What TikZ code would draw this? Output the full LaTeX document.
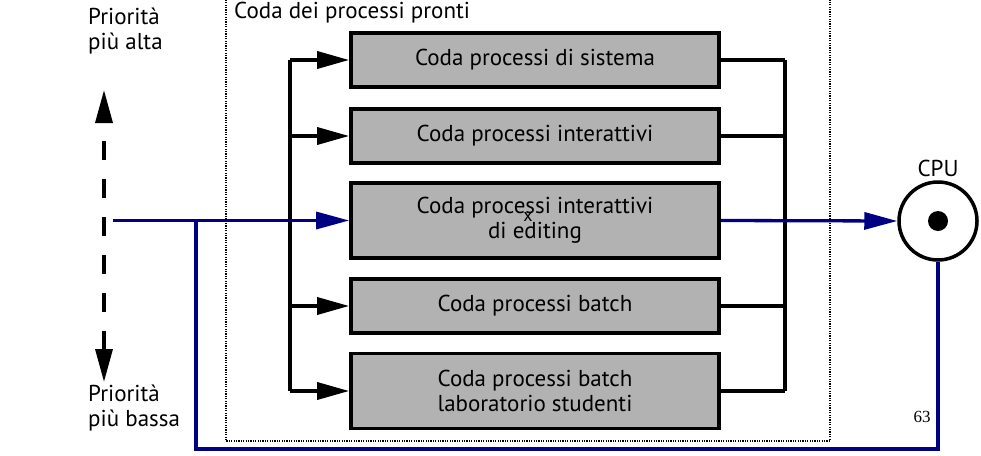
\documentclass[tikz,border=0pt]{standalone}
\usepackage{fontspec}
\setmainfont{PT Sans}
\newfontfamily\numfont{Liberation Serif}
\usetikzlibrary{positioning, arrows.meta}
\definecolor{navyline}{RGB}{0,0,130}
\definecolor{queuegray}{RGB}{178,178,178}

\begin{document}
\begin{tikzpicture}[
        x=1pt, y=-1pt,
        font=\fontsize{23}{25}\selectfont,
        node distance=4pt,
        queue/.style={draw, line width=3.7pt, fill=queuegray, minimum width=368pt, minimum height=54pt, inner sep=0pt, align=center},
        tallqueue/.style={queue, minimum height=75pt},
        bus/.style={line width=3.5pt},
        feed/.style={bus, -{Triangle[length=32pt, width=17pt]}},
        bluebus/.style={line width=3.3pt, draw=navyline},
        bluefeed/.style={bluebus, -{Triangle[length=33pt, width=17pt]}, color=navyline},
        prio/.style={line width=3.5pt, dash pattern=on 19pt off 19pt, {Triangle[length=33pt, width=17pt]}-{Triangle[length=33pt, width=17pt]}},
        dotbox/.style={line width=2.6pt, dash pattern=on 1.2pt off 1.2pt},
        note/.style={align=left, inner sep=0pt}
    ]

    \useasboundingbox (0,0) rectangle (981,455);

    % --- Priority scale (left) ---
    \node[note, anchor=north west] (high) at (88,8) {Priorità\\più alta};
    \node[note, anchor=north west] (low) at (88,385) {Priorità\\più bassa};
    \coordinate (up) at (104,90);
    \coordinate (down) at (104,382);
    \draw[prio] (down) -- (up);

    % --- Ready queues ---
    \draw[dotbox] (226,-5) |- (830,441) -- (830,-5);
    \node[anchor=west, inner sep=0pt] (ready) at (234,13) {Coda dei processi pronti};

    \node[queue] (q1) at (535,60) {Coda processi di sistema};
    \node[queue] (q2) at (535,136) {Coda processi interattivi};
    \node[tallqueue] (q3) at (535,220.5) {Coda processi interattivi\\di editing};
    \node[queue] (q4) at (535,306) {Coda processi batch};
    \node[tallqueue] (q5) at (535,391) {Coda processi batch\\laboratorio studenti};
    \node[font=\fontsize{18}{20}\selectfont, inner sep=0pt] (mark) at (528,217) {x};

    % bus lines
    \coordinate (lbus) at (290,0);
    \coordinate (rbus) at (785,0);
    \draw[bus] (q1.west -| lbus) -- (q5.west -| lbus);
    \foreach \q in {q1, q2, q4, q5}
        \draw[feed] (\q.west -| lbus) -- (\q.west);
    \draw[bus] (q1.east -| rbus) -- (q5.east -| rbus);
    \foreach \q in {q1, q2, q4, q5}
        \draw[bus] (\q.east) -- (\q.east -| rbus);

    % --- CPU ---
    \node[circle, draw, line width=3.5pt, fill=white, minimum size=78pt, inner sep=0pt] (cpu) at (938,221) {};
    \node[circle, fill=black, minimum size=20pt, inner sep=0pt] (core) at (cpu) {};
    \node[above=3pt of cpu, inner sep=0pt] (cpulabel) {CPU};
    \node[font=\numfont\fontsize{17}{19}\selectfont, inner sep=0pt] (page) at (922,417) {63};

    % --- Blue flow ---
    \coordinate (in) at (113,220.5);
    \coordinate (back) at (196,449);
    \draw[bluefeed] (in) -- (q3.west);
    \draw[bluefeed] (q3.east) -- (cpu.west);
    \draw[bluebus] (cpu.south) |- (back) -- (back |- in);

\end{tikzpicture}
\end{document}
